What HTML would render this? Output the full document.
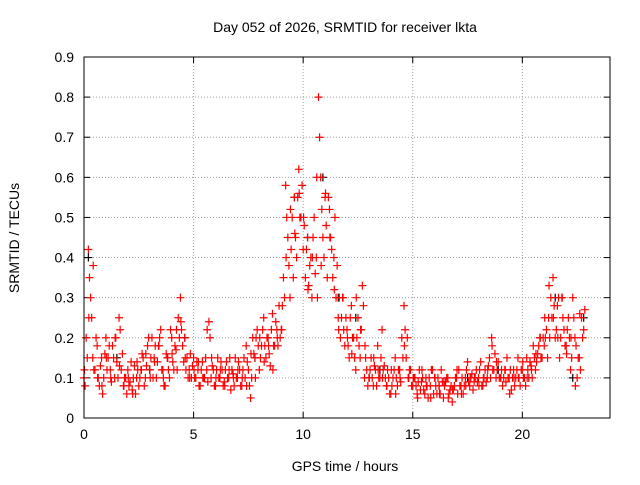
<!DOCTYPE html>
<html><head><meta charset="utf-8"><style>
body{margin:0;background:#fff;font-family:"Liberation Sans",sans-serif;}
svg text{font-family:"Liberation Sans",sans-serif;font-size:14px;fill:#000;}
</style></head><body>
<svg id="chart" width="640" height="480">
<text x="345" y="32" text-anchor="middle">Day 052 of 2026, SRMTID for receiver lkta</text>
<text x="345" y="471" text-anchor="middle">GPS time / hours</text>
<text transform="translate(19,238) rotate(-90)" text-anchor="middle">SRMTID / TECUs</text>
<g id="grid"></g>
<g id="ticks"></g>
<g id="marks"></g>
<rect x="84" y="57" width="526" height="361" fill="none" stroke="#000" stroke-width="1"/>
</svg>
<script>
const xTicks=[0,5,10,15,20];
const yTicks=[0,0.1,0.2,0.3,0.4,0.5,0.6,0.7,0.8,0.9];
const yTickLabels=["0","0.1","0.2","0.3","0.4","0.5","0.6","0.7","0.8","0.9"];
const redStart=0, redStep=0.1;
const redValues=[0.1,0.2,0.42,0.3,0.15,0.12,0.18,0.08,0.15,0.1,
0.2,0.15,0.12,0.18,0.1,0.14,0.25,0.12,0.08,0.1,
0.12,0.09,0.07,0.13,0.1,0.08,0.12,0.15,0.1,0.18,
0.12,0.2,0.15,0.1,0.18,0.22,0.12,0.08,0.15,0.1,
0.2,0.12,0.17,0.25,0.3,0.18,0.2,0.15,0.12,0.1,
0.15,0.1,0.12,0.08,0.14,0.1,0.12,0.24,0.1,0.12,
0.08,0.15,0.1,0.12,0.09,0.14,0.1,0.07,0.11,0.15,
0.1,0.12,0.08,0.15,0.18,0.12,0.05,0.2,0.15,0.22,
0.12,0.18,0.25,0.15,0.2,0.13,0.26,0.18,0.22,0.28,
0.22,0.35,0.58,0.45,0.3,0.5,0.55,0.4,0.62,0.5,
0.42,0.35,0.45,0.38,0.3,0.5,0.4,0.8,0.6,0.45,
0.55,0.35,0.52,0.42,0.4,0.3,0.25,0.2,0.3,0.18,
0.22,0.15,0.28,0.2,0.12,0.25,0.15,0.33,0.1,0.12,
0.1,0.15,0.08,0.12,0.18,0.1,0.22,0.13,0.08,0.1,
0.06,0.1,0.15,0.08,0.12,0.2,0.28,0.15,0.1,0.12,
0.08,0.1,0.06,0.12,0.09,0.07,0.1,0.05,0.08,0.12,
0.1,0.06,0.08,0.12,0.05,0.09,0.1,0.07,0.04,0.08,
0.1,0.12,0.08,0.06,0.1,0.14,0.08,0.11,0.09,0.12,
0.1,0.14,0.08,0.12,0.1,0.15,0.2,0.12,0.1,0.14,
0.1,0.08,0.12,0.15,0.1,0.07,0.12,0.1,0.15,0.08,
0.12,0.1,0.15,0.1,0.13,0.18,0.12,0.16,0.2,0.15,
0.18,0.22,0.25,0.3,0.35,0.2,0.28,0.15,0.3,0.22,
0.18,0.25,0.12,0.3,0.2,0.1,0.15,0.25,0.22];
const red2Start=0.05, red2Step=0.1;
const redValues2=[0.08,0.15,0.35,0.25,0.12,0.2,0.1,0.13,0.06,0.16,
0.12,0.18,0.09,0.15,0.2,0.1,0.22,0.16,0.1,0.06,
0.08,0.14,0.1,0.06,0.12,0.1,0.16,0.08,0.13,0.2,
0.15,0.1,0.18,0.14,0.2,0.12,0.08,0.16,0.12,0.22,
0.14,0.18,0.12,0.2,0.22,0.14,0.12,0.1,0.16,0.13,
0.1,0.14,0.08,0.12,0.1,0.15,0.09,0.2,0.13,0.08,
0.12,0.1,0.14,0.08,0.12,0.1,0.15,0.12,0.08,0.1,
0.14,0.08,0.12,0.1,0.14,0.08,0.1,0.16,0.2,0.18,
0.15,0.22,0.18,0.2,0.16,0.22,0.18,0.24,0.18,0.2,
0.28,0.3,0.5,0.38,0.42,0.35,0.45,0.55,0.5,0.58,
0.48,0.42,0.33,0.4,0.45,0.36,0.3,0.7,0.52,0.4,
0.48,0.55,0.45,0.35,0.5,0.38,0.3,0.25,0.22,0.25,
0.18,0.25,0.2,0.15,0.2,0.18,0.22,0.28,0.15,0.08,
0.12,0.1,0.13,0.08,0.1,0.15,0.12,0.1,0.12,0.06,
0.08,0.12,0.1,0.12,0.09,0.15,0.22,0.2,0.12,0.08,
0.1,0.08,0.09,0.07,0.1,0.06,0.08,0.1,0.12,0.06,
0.08,0.1,0.06,0.09,0.08,0.1,0.06,0.08,0.07,0.1,
0.06,0.08,0.1,0.08,0.12,0.09,0.1,0.07,0.1,0.09,
0.12,0.08,0.1,0.09,0.13,0.1,0.12,0.16,0.12,0.1,
0.12,0.1,0.09,0.1,0.12,0.1,0.08,0.12,0.1,0.12,
0.1,0.08,0.12,0.14,0.1,0.15,0.14,0.18,0.15,0.2,
0.2,0.15,0.2,0.25,0.28,0.22,0.3,0.2,0.25,0.18,
0.22,0.2,0.15,0.25,0.18,0.15,0.12,0.2,0.27];
const red3Start=0.02, red3Step=0.2;
const redValues3=[0.12,0.25,0.38,0.1,0.08,0.15,0.1,0.2,0.13,0.08,
0.1,0.06,0.14,0.12,0.16,0.1,0.14,0.18,0.1,0.15,
0.16,0.22,0.24,0.15,0.1,0.12,0.14,0.1,0.22,0.15,
0.1,0.12,0.08,0.12,0.1,0.12,0.1,0.08,0.16,0.1,
0.2,0.14,0.18,0.12,0.2,0.22,0.4,0.52,0.46,0.56,
0.5,0.32,0.4,0.6,0.38,0.56,0.45,0.32,0.22,0.3,
0.2,0.16,0.3,0.22,0.18,0.1,0.15,0.12,0.1,0.08,
0.12,0.06,0.1,0.18,0.1,0.1,0.05,0.12,0.08,0.05,
0.1,0.06,0.09,0.05,0.07,0.12,0.06,0.08,0.1,0.1,
0.08,0.1,0.12,0.18,0.14,0.1,0.12,0.06,0.1,0.1,
0.14,0.1,0.12,0.16,0.2,0.25,0.33,0.25,0.2,0.3,
0.16,0.2,0.08,0.26];
const blackTimes=[0.2,1.5,3.0,4.6,6.2,7.8,9.6,10.2,10.9,11.6,12.4,13.5,14.8,16.2,17.5,18.9,20.3,21.5,22.3,22.8];
const blackValues=[0.4,0.15,0.12,0.2,0.1,0.15,0.55,0.45,0.6,0.3,0.25,0.12,0.1,0.08,0.1,0.12,0.1,0.3,0.1,0.25];
const NS='http://www.w3.org/2000/svg';
const X0=84,X1=610,Y0=418,Y1=57;
const xs=v=>X0+v/24*(X1-X0);
const ys=v=>Y0-v/0.9*(Y0-Y1);
const grid=document.getElementById('grid'),ticks=document.getElementById('ticks'),marks=document.getElementById('marks');
function line(p,x1,y1,x2,y2,st,dash){const l=document.createElementNS(NS,'line');l.setAttribute('x1',x1);l.setAttribute('y1',y1);l.setAttribute('x2',x2);l.setAttribute('y2',y2);l.setAttribute('stroke',st);if(dash)l.setAttribute('stroke-dasharray',dash);p.appendChild(l);return l;}
xTicks.forEach(t=>{const x=xs(t);
 if(t>0){const g=line(grid,x,Y0,x,Y1,'#a0a0a0','1,2');
 
 }
 line(ticks,x,Y0,x,Y0-6,'#000');line(ticks,x,Y1,x,Y1+6,'#000');
 const tx=document.createElementNS(NS,'text');tx.setAttribute('x',x);tx.setAttribute('y',Y0+21);tx.setAttribute('text-anchor','middle');tx.textContent=t;
 
 
 ticks.appendChild(tx);});
yTicks.forEach((t,i)=>{const y=ys(t);
 if(i>0&&i<yTicks.length-1){const g=line(grid,X0,y,X1,y,'#a0a0a0','1,2');
 
 }
 line(ticks,X0,y,X0+6,y,'#000');line(ticks,X1,y,X1-6,y,'#000');
 const tx=document.createElementNS(NS,'text');tx.setAttribute('x',X0-10);tx.setAttribute('y',y+5);tx.setAttribute('text-anchor','end');tx.textContent=yTickLabels[i];
 
 
 ticks.appendChild(tx);});
function plus(x,y,c,name){const p=document.createElementNS(NS,'path');p.setAttribute('d',`M${x-4},${y}H${x+4}M${x},${y-4}V${y+4}`);p.setAttribute('stroke',c);p.setAttribute('stroke-width','1.2');
 
 
 marks.appendChild(p);}
blackTimes.forEach((t,i)=>plus(xs(t),ys(blackValues[i]),'#000','black-point'));
redValues.forEach((v,i)=>plus(xs(redStart+i*redStep),ys(v),'#ff0000','red-point'));
redValues2.forEach((v,i)=>plus(xs(red2Start+i*red2Step),ys(v),'#ff0000','red-point'));
redValues3.forEach((v,i)=>plus(xs(red3Start+i*red3Step),ys(v),'#ff0000','red-point'));
</script>
</body></html>
